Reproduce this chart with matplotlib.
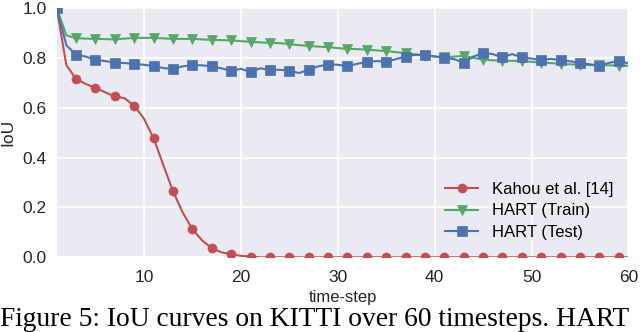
import matplotlib
matplotlib.use("Agg")
import matplotlib.pyplot as plt
import numpy as np

timesteps = list(range(1, 61))

kahou = [1.0, 0.77, 0.716, 0.695, 0.680, 0.662, 0.645, 0.638, 0.608, 0.556,
         0.478, 0.37, 0.265, 0.18, 0.113, 0.068, 0.036, 0.02, 0.012, 0.006,
         0.003] + [0.0] * 39

hart_train = [1.0, 0.89, 0.879, 0.877, 0.876, 0.875, 0.874, 0.877, 0.880, 0.880,
              0.880, 0.878, 0.876, 0.876, 0.876, 0.874, 0.872, 0.871, 0.870, 0.867,
              0.864, 0.862, 0.860, 0.859, 0.855, 0.851, 0.848, 0.845, 0.843, 0.839,
              0.836, 0.835, 0.833, 0.830, 0.827, 0.823, 0.819, 0.814, 0.809, 0.805,
              0.802, 0.805, 0.808, 0.800, 0.793, 0.790, 0.789, 0.788, 0.787, 0.784,
              0.781, 0.779, 0.776, 0.774, 0.772, 0.771, 0.770, 0.770, 0.769, 0.768]

hart_test = [1.0, 0.85, 0.813, 0.805, 0.792, 0.787, 0.781, 0.779, 0.776, 0.772,
             0.767, 0.759, 0.755, 0.766, 0.771, 0.770, 0.766, 0.758, 0.747, 0.756,
             0.743, 0.758, 0.752, 0.752, 0.749, 0.739, 0.752, 0.766, 0.773, 0.772,
             0.767, 0.776, 0.783, 0.787, 0.784, 0.795, 0.805, 0.812, 0.812, 0.806,
             0.800, 0.795, 0.780, 0.805, 0.820, 0.815, 0.802, 0.815, 0.802, 0.797,
             0.791, 0.796, 0.790, 0.786, 0.780, 0.774, 0.768, 0.780, 0.787, 0.778]

labels = ["Kahou et al. [14]", "HART (Train)", "HART (Test)"]
xticks = [10, 20, 30, 40, 50, 60]
yticks = [0.0, 0.2, 0.4, 0.6, 0.8, 1.0]
caption = "Figure 5: IoU curves on KITTI over 60 timesteps. HART"

plt.rcParams['font.family'] = ['Liberation Sans', 'DejaVu Sans']

fig = plt.figure(figsize=(6.4, 3.32), dpi=100)
ax = fig.add_axes([0.0886, 0.225, 0.8934, 0.751])
ax.set_facecolor('#EAEAF2')
for s in ax.spines.values():
    s.set_visible(False)
ax.grid(True, color='white', linewidth=1.2)
ax.set_axisbelow(True)

colors = ['#C44E52', '#55A868', '#4C72B0']
markers = ['o', 'v', 's']
for vals, lab, c, m in zip([kahou, hart_train, hart_test], labels, colors, markers):
    ax.plot(timesteps, vals, color=c, marker=m, markevery=2, markersize=6.5,
            linewidth=1.5, label=lab, markeredgecolor=c, markeredgewidth=0.5)

ax.set_xlim(1, 60)
ax.set_ylim(0, 1.0)
ax.set_xticks(xticks)
ax.set_yticks(yticks)
ax.set_yticklabels([f"{v:.1f}" for v in yticks])
ax.tick_params(axis='x', length=0, labelsize=12.5, colors='#262626', pad=9)
ax.tick_params(axis='y', length=0, labelsize=12.5, colors='#262626', pad=7)
ax.set_xlabel("time-step", fontsize=12, color='#262626', labelpad=4)
ax.set_ylabel("IoU", fontsize=12.5, color='#262626', labelpad=5)

ax.legend(loc='center left', bbox_to_anchor=(0.6675, 0.186), frameon=False,
          fontsize=12, borderaxespad=0, labelspacing=0.4, handlelength=2.0)

fig.text(0.0, 0.018, caption, family=['Liberation Serif', 'DejaVu Serif'],
         fontsize=19.8, color='black', ha='left', va='baseline')

fig.savefig("out.png", dpi=100)
